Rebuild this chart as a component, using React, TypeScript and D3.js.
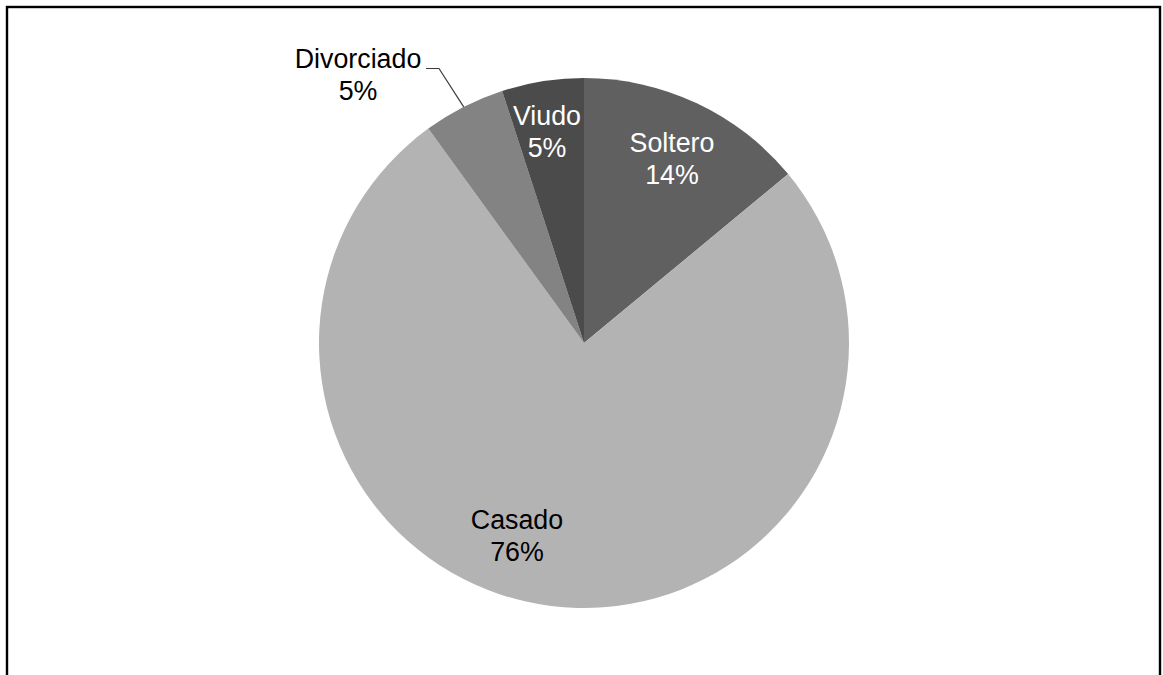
import React from "react";
import * as d3 from "d3";

const categories = ["Soltero", "Casado", "Divorciado", "Viudo"];
const values = [14, 76, 5, 5];
const percentLabels = ["14%", "76%", "5%", "5%"];
const colors = ["#606060", "#b3b3b3", "#838383", "#4b4b4b"];
const labelColors = ["#ffffff", "#000000", "#000000", "#ffffff"];

// label layout (first-line baseline), separate from data
const labelLayout = [
  { x: 672, y: 152 },
  { x: 517, y: 529 },
  { x: 358, y: 68 },
  { x: 547, y: 125 },
];

const W = 1163;
const H = 675;
const cx = 584;
const cy = 343;
const R = 265;
const lineGap = 31.5;

export default function App() {
  const pie = d3
    .pie<number>()
    .sort(null)
    .value((d) => d)
    .startAngle(0)
    .endAngle(2 * Math.PI);
  const arcs = pie(values);
  const arcGen = d3.arc<d3.PieArcDatum<number>>().innerRadius(0).outerRadius(R);

  // leader line for Divorciado
  const div = arcs[2];
  const midA = (div.startAngle + div.endAngle) / 2;
  const ex = cx + R * Math.sin(midA);
  const ey = cy - R * Math.cos(midA);
  const leader = d3.line()([
    [426, 68.5],
    [439, 68.5],
    [ex, ey],
  ]);

  return (
    <svg
      width={W}
      height={H}
      style={{ position: "absolute", left: 0, top: 0, background: "#fff" }}
    >
      <rect x={0} y={0} width={W} height={H} fill="#fff" />
      <rect
        x={7}
        y={7}
        width={1153}
        height={700}
        fill="none"
        stroke="#000"
        strokeWidth={2.4}
      />
      <g transform={`translate(${cx},${cy})`}>
        {arcs.map((a, i) => (
          <path key={categories[i]} d={arcGen(a) || ""} fill={colors[i]} />
        ))}
      </g>
      <path d={leader || ""} fill="none" stroke="#3a3a3a" strokeWidth={1.2} />
      {categories.map((c, i) => (
        <text
          key={c}
          x={labelLayout[i].x}
          y={labelLayout[i].y}
          textAnchor="middle"
          fontFamily="'Liberation Sans', Arial, sans-serif"
          fontSize={26.8}
          fill={labelColors[i]}
        >
          <tspan x={labelLayout[i].x}>{c}</tspan>
          <tspan x={labelLayout[i].x} dy={lineGap}>
            {percentLabels[i]}
          </tspan>
        </text>
      ))}
    </svg>
  );
}
